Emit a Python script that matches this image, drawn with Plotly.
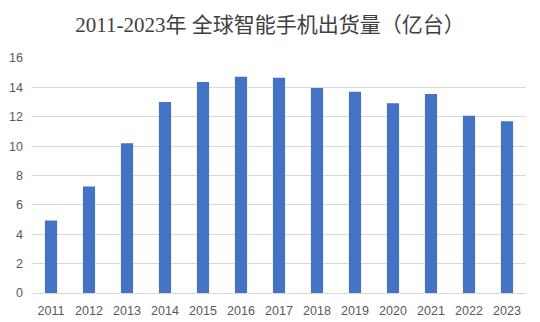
import plotly.graph_objects as go

years = ["2011", "2012", "2013", "2014", "2015", "2016", "2017",
         "2018", "2019", "2020", "2021", "2022", "2023"]
shipments = [4.94, 7.25, 10.19, 13.01, 14.37, 14.73, 14.65,
             13.96, 13.71, 12.92, 13.55, 12.06, 11.70]
y_ticks = [0, 2, 4, 6, 8, 10, 12, 14, 16]

fig = go.Figure(go.Bar(
    x=years,
    y=shipments,
    marker=dict(color="#4472C4", line=dict(width=0)),
))

fig.update_layout(
    width=540,
    height=322,
    margin=dict(l=32, r=14, t=58, b=29),
    paper_bgcolor="white",
    plot_bgcolor="white",
    bargap=0.68,
    showlegend=False,
    title=dict(
        text="2011-2023年 全球智能手机出货量（亿台）",
        x=0.5,
        xanchor="center",
        y=0.925,
        yanchor="middle",
        font=dict(family="Liberation Serif, Noto Sans CJK SC", size=21, color="#404040"),
    ),
    font=dict(family="Liberation Sans, Arial, sans-serif", size=12.5, color="#595959"),
)

fig.update_xaxes(
    type="category",
    automargin=False,
    showgrid=False,
    showline=True,
    linecolor="#d9d9d9",
    linewidth=1,
    ticks="",
    ticklabelstandoff=6,
    tickfont=dict(size=12.5, color="#595959"),
)

fig.update_yaxes(
    range=[0, 16],
    automargin=False,
    tickvals=y_ticks,
    showgrid=True,
    gridcolor="#d9d9d9",
    gridwidth=1,
    zeroline=False,
    showline=False,
    ticks="",
    ticklabelstandoff=8,
    tickfont=dict(size=12.5, color="#595959"),
)

fig.write_html("out.html")
